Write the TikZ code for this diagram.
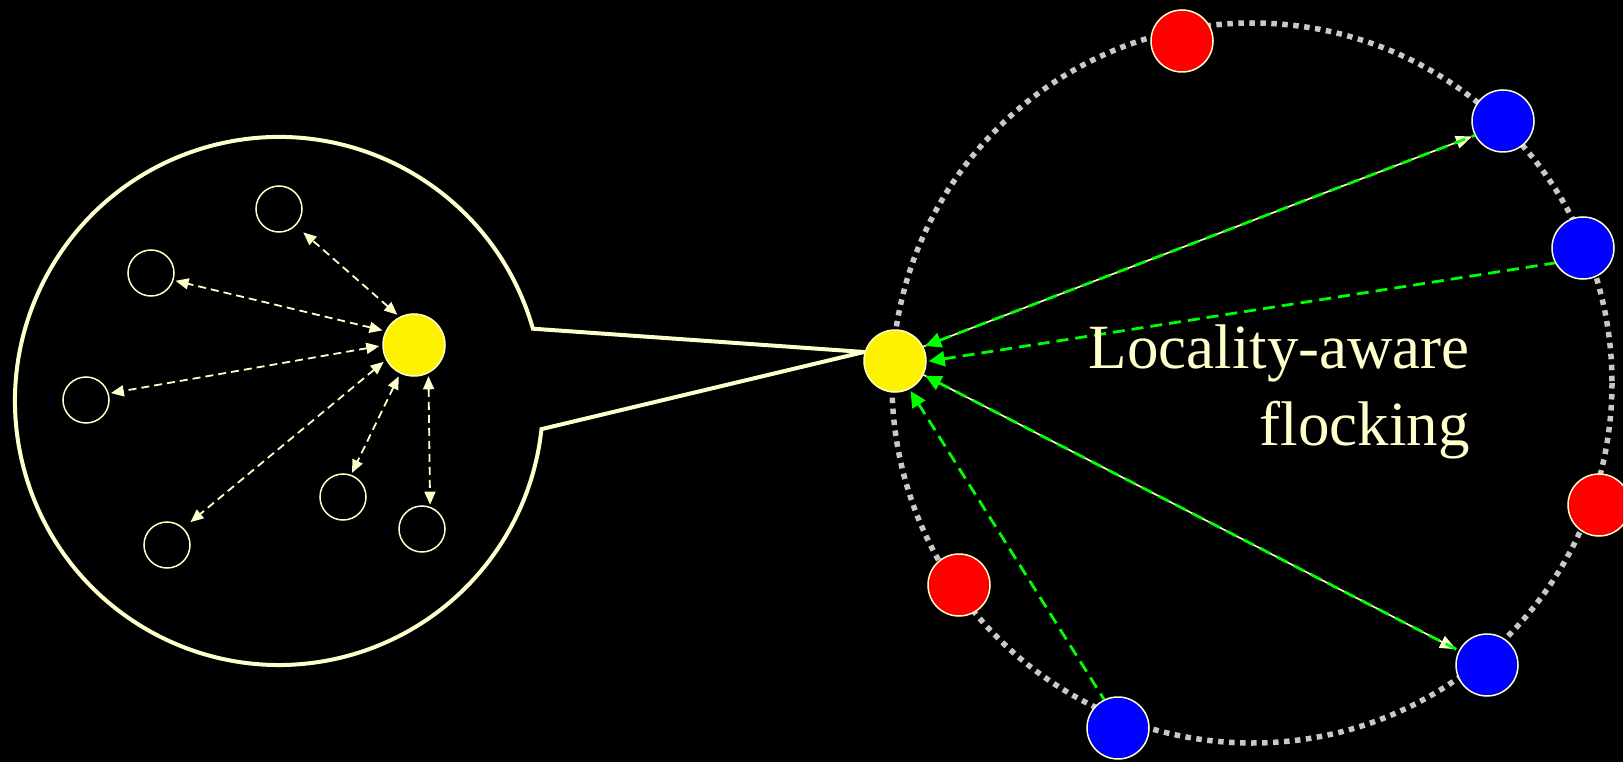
\documentclass[tikz,border=0pt]{standalone}
\usepackage{fontspec}
\setmainfont{Liberation Serif}
\usetikzlibrary{arrows.meta}
\definecolor{cream}{RGB}{255,255,204}
\definecolor{ringgray}{RGB}{200,200,200}
\definecolor{flockgreen}{RGB}{0,255,0}
\begin{document}
\begin{tikzpicture}[x=1pt,y=-1pt,
  agent/.style={circle,draw=cream,line width=1.5pt,minimum size=62pt,inner sep=0pt},
  peer/.style={circle,draw=cream,line width=1.5pt,minimum size=46pt,inner sep=0pt},
  nbr/.style={cream,line width=1.8pt,dash pattern=on 8pt off 5pt,{Triangle[length=13pt,width=11pt]}-{Triangle[length=13pt,width=11pt]},shorten <=3pt,shorten >=2pt},
  cue/.style={cream,line width=1.6pt,-{Triangle[length=16pt,width=13pt]},shorten >=3pt},
  flock/.style={flockgreen,line width=2.8pt,dash pattern=on 12pt off 7pt,{Triangle[length=16pt,width=15pt]}-,shorten <=2pt}]
  \useasboundingbox (0,0) rectangle (1623,762);
  \fill[black] (0,0) rectangle (1623,762);
  % ring of flockmates
  \draw[ringgray,line width=5.5pt,dash pattern=on 5.5pt off 5.5pt] (1252,383) circle[radius=360];
  % zoomed-in view
  \draw[cream,line width=4pt] (864,352) -- (532.9,328.7) arc[start angle=-15.89,end angle=-353.88,radius=264] -- cycle;
  % inside the zoom
  \node[agent,fill=yellow] (me) at (414,345) {};
  \node[peer] (n1) at (279,209) {};
  \node[peer] (n2) at (151,273) {};
  \node[peer] (n3) at (86,400) {};
  \node[peer] (n4) at (167,545) {};
  \node[peer] (n5) at (343,497) {};
  \node[peer] (n6) at (422,529) {};
  \draw[nbr,shorten >=10pt] (me.117) -- (n1.315);
  \draw[nbr] (me.154) -- (n2.342);
  \draw[nbr] (me.181) -- (n3.16);
  \draw[nbr,shorten >=9pt] (me.208) -- (n4.46);
  \draw[nbr] (me.244) -- (n5.70);
  \draw[nbr] (me.297) -- (n6.70);
  % the flock
  \node[agent,fill=yellow] (self) at (895,361) {};
  \node[agent,fill=red] (r1) at (1182,41) {};
  \node[agent,fill=red] (r2) at (1599,505) {};
  \node[agent,fill=red] (r3) at (959,585) {};
  \node[agent,fill=blue] (b1) at (1503,121) {};
  \node[agent,fill=blue] (b2) at (1583,248) {};
  \node[agent,fill=blue] (b3) at (1487,665) {};
  \node[agent,fill=blue] (b4) at (1118,728) {};
  \draw[cue] (self.27) -- (b1.207);
  \draw[flock] (self.27) -- (b1.207);
  \draw[flock] (self.359) -- (b2.208);
  \draw[cue] (self.334) -- (b3.153);
  \draw[flock] (self.334) -- (b3.153);
  \draw[flock] (self.297) -- (b4.116);
  \node[cream,anchor=base east,align=right,inner sep=0pt,
    font=\fontsize{63}{77}\selectfont] (lbl) at (1470,445) {Locality-aware\\flocking};
\end{tikzpicture}
\end{document}
